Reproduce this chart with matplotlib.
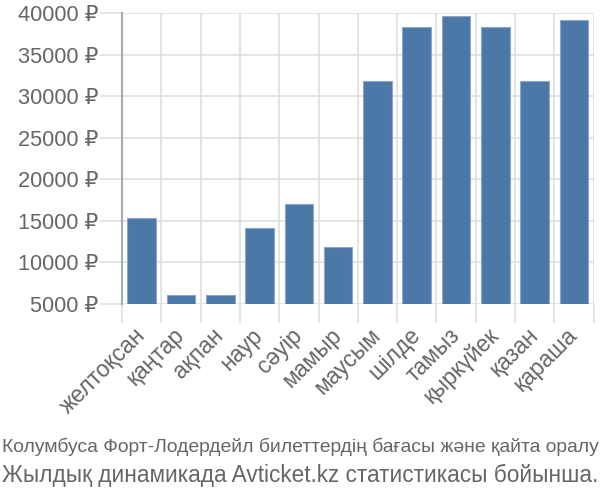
import matplotlib
matplotlib.use("Agg")
import matplotlib.pyplot as plt
from matplotlib.ticker import FixedLocator, FuncFormatter

months = ["желтоқсан", "қаңтар", "ақпан", "наур", "сәуір", "мамыр",
          "маусым", "шілде", "тамыз", "қыркүйек", "қазан", "қараша"]
prices = [15300, 6100, 6100, 14200, 17100, 11900,
          31800, 38300, 39700, 38300, 31800, 39200]
yticks = [5000, 10000, 15000, 20000, 25000, 30000, 35000, 40000]
title_line1 = "Колумбуса Форт-Лодердейл билеттердің бағасы және қайта оралу"
title_line2 = "Жылдық динамикада Avticket.kz статистикасы бойынша."

plt.rcParams['font.family'] = ['Liberation Sans', 'DejaVu Sans']
text_color = "#666666"
grid_color = "#dddddd"

fig = plt.figure(figsize=(6, 5), dpi=100)
ax = fig.add_axes([122/600, 1-304/500, 471.6/600, (304-13.3)/500])

x = list(range(len(months)))
ax.bar(x, prices, width=0.73, color="#4c78a8", edgecolor="#8aa6cc",
       linewidth=0.8, zorder=3)

ax.set_xlim(-0.5, len(months)-0.5)
ax.set_ylim(5000, 40000)

ax.set_yticks(yticks)
ax.yaxis.set_major_formatter(FuncFormatter(lambda v, p: f"{int(v)} ₽"))
ax.tick_params(axis='y', length=15.5, width=1.1, color=grid_color, pad=1.5,
               labelsize=15.7, labelcolor=text_color)
ax.grid(axis='y', color=grid_color, linewidth=1.1, zorder=0)

ax.set_xticks(x)
ax.set_xticklabels(months, rotation=45, ha='right', va='center',
                   rotation_mode='anchor', fontsize=16.5, color=text_color)
ax.tick_params(axis='x', which='major', length=0, pad=20)
ax.xaxis.set_minor_locator(FixedLocator([i - 0.5 for i in range(len(months)+1)]))
ax.tick_params(axis='x', which='minor', length=14, width=1.1, color=grid_color)
ax.grid(axis='x', which='minor', color=grid_color, linewidth=1.1, zorder=0)

for s in ['top', 'right', 'bottom']:
    ax.spines[s].set_visible(False)
ax.spines['left'].set_color("#aaaaaa")
ax.spines['left'].set_linewidth(1.5)

fig.text(0.5, 1-447/500, title_line1, ha='center', va='center',
         fontsize=13.9, color=text_color)
fig.text(0.5, 1-475/500, title_line2, ha='center', va='center',
         fontsize=16.3, color=text_color)

fig.savefig("out.png", dpi=100)
